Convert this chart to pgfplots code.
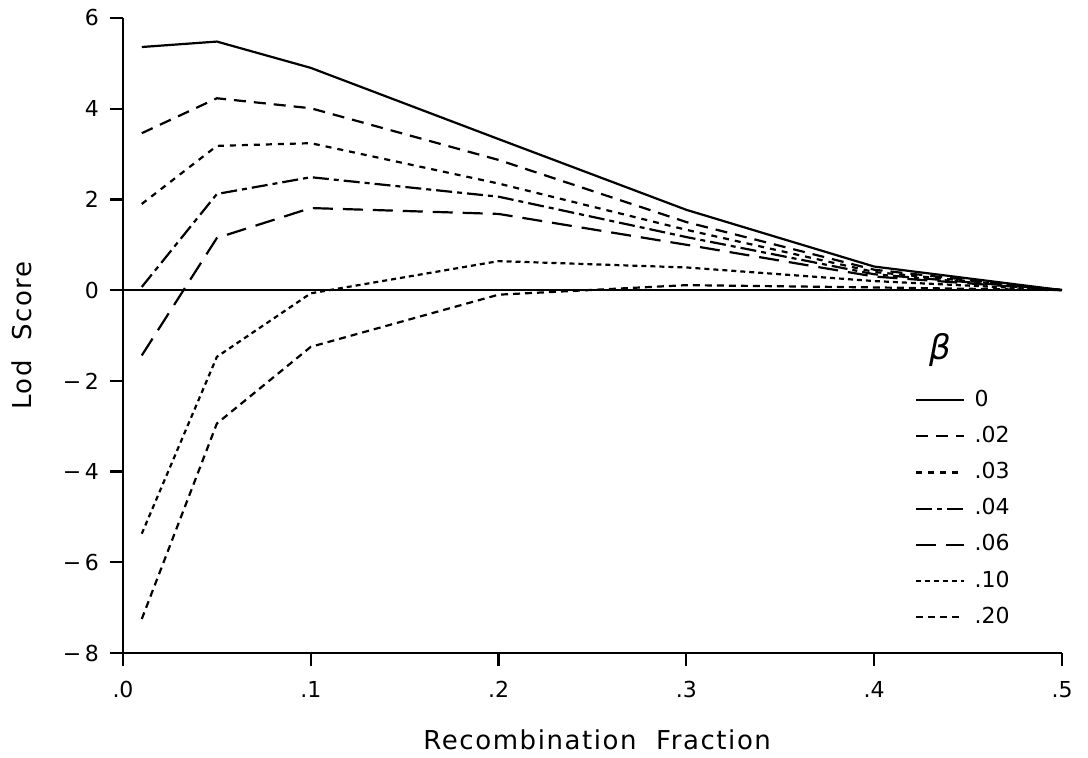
\documentclass[border=0pt]{standalone}
\usepackage{fontspec}
\setmainfont{DejaVu Sans}
\usepackage{pgfplots}
\pgfplotsset{compat=1.18}

\begin{document}
\begin{tikzpicture}
\useasboundingbox (-61.5pt,-52pt) rectangle (482.5pt,326.5pt);
\begin{axis}[
    at={(0,0)}, anchor=south west,
    scale only axis,
    width=469.5pt, height=317.5pt,
    xmin=0, xmax=0.5, ymin=-8, ymax=6,
    axis lines=left,
    axis line style={-, line width=1.1pt},
    tick align=outside,
    major tick length=6.5pt,
    every tick/.style={black, line width=1.1pt},
    xtick={0,0.1,0.2,0.3,0.4,0.5},
    xticklabels={.0,.1,.2,.3,.4,.5},
    ytick={-8,-6,-4,-2,0,2,4,6},
    yticklabels={−\,8,−\,6,−\,4,−\,2,0,2,4,6},
    tick label style={font=\fontsize{11}{13}\selectfont},
    xticklabel style={yshift=-4pt},
    yticklabel style={xshift=-2pt},
    xlabel={Recombination\ \ Fraction},
    ylabel={Lod\ \ Score},
    label style={font=\fontsize{13}{15}\selectfont\addfontfeature{LetterSpace=6}},
    xlabel style={at={(axis description cs:0.505,-0.137)}, anchor=center},
    ylabel style={at={(axis description cs:-0.1076,0.5)}, anchor=center},
    every axis plot/.append style={black, line width=1.1pt},
    legend cell align=left,
    legend image code/.code={\draw[#1] (0pt,0pt) -- (24pt,0pt);},
    legend style={draw=none, fill=none, at={(axis cs:0.4217,-4.82)}, anchor=west,
        inner sep=0pt, row sep=8.1pt, column sep=0pt,
        nodes={inner xsep=4.5pt, inner ysep=0pt, text height=8pt, text depth=2pt, font=\fontsize{11}{13}\selectfont}},
]
\addplot[forget plot] coordinates {(0,0) (0.5,0)};

\addplot[solid] coordinates {
    (0.01,5.36) (0.05,5.48) (0.1,4.90) (0.2,3.33) (0.3,1.77) (0.4,0.52) (0.5,0)
};
\addlegendentry{0}
\addplot[dash pattern=on 6pt off 4pt] coordinates {
    (0.01,3.46) (0.05,4.23) (0.1,4.01) (0.2,2.87) (0.3,1.50) (0.4,0.45) (0.5,0)
};
\addlegendentry{.02}
\addplot[dash pattern=on 3pt off 3pt] coordinates {
    (0.01,1.90) (0.05,3.18) (0.1,3.24) (0.2,2.35) (0.3,1.33) (0.4,0.40) (0.5,0)
};
\addlegendentry{.03}
\addplot[dash pattern=on 8pt off 2.5pt on 2.5pt off 2.5pt] coordinates {
    (0.01,0.07) (0.05,2.12) (0.1,2.49) (0.2,2.06) (0.3,1.17) (0.4,0.35) (0.5,0)
};
\addlegendentry{.04}
\addplot[dash pattern=on 10pt off 5pt] coordinates {
    (0.01,-1.44) (0.05,1.15) (0.1,1.81) (0.2,1.68) (0.3,1.00) (0.4,0.30) (0.5,0)
};
\addlegendentry{.06}
\addplot[dash pattern=on 2.5pt off 2pt] coordinates {
    (0.01,-5.37) (0.05,-1.47) (0.1,-0.07) (0.2,0.64) (0.3,0.50) (0.4,0.20) (0.5,0)
};
\addlegendentry{.10}
\addplot[dash pattern=on 3.5pt off 2.5pt] coordinates {
    (0.01,-7.25) (0.05,-2.94) (0.1,-1.25) (0.2,-0.10) (0.3,0.11) (0.4,0.06) (0.5,0)
};
\addlegendentry{.20}

\node[font=\fontsize{17}{20}\selectfont\itshape] at (axis cs:0.435,-1.32) {β};
\end{axis}
\end{tikzpicture}
\end{document}
